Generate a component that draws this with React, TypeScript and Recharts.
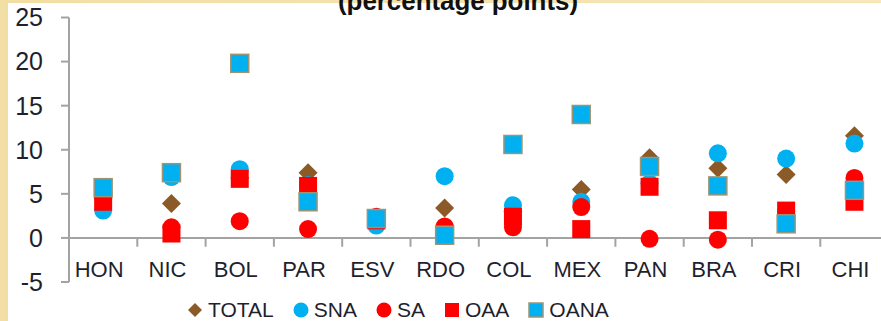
import { ComposedChart, Scatter, XAxis, YAxis, ReferenceLine } from 'recharts';

const categories = ['HON', 'NIC', 'BOL', 'PAR', 'ESV', 'RDO', 'COL', 'MEX', 'PAN', 'BRA', 'CRI', 'CHI'];
const totalValues = [4.5, 3.9, 6.8, 7.4, 2.0, 3.4, 3.0, 5.5, 9.1, 7.9, 7.2, 11.6];
const snaValues = [3.1, 6.9, 7.8, 6.0, 1.4, 7.0, 3.7, 4.1, 6.2, 9.6, 9.0, 10.7];
const saValues = [5.0, 1.2, 1.9, 1.0, 2.4, 1.3, 1.2, 3.5, -0.1, -0.2, 3.0, 6.8];
const oaaValues = [4.1, 0.5, 6.7, 5.9, 2.0, 0.5, 2.4, 1.0, 5.8, 2.0, 3.1, 4.1];
const oanaValues = [5.7, 7.4, 19.8, 4.1, 2.2, 0.3, 10.6, 14.0, 8.1, 5.9, 1.6, 5.4];
const yTicks = [-5, 0, 5, 10, 15, 20, 25];

const BLUE = '#00b0f0';
const RED = '#ff0000';
const BROWN = '#8c5a26';
const AXIS = '#a3a3a3';
const TEXT = '#1f1f2e';
const FONT = "'Liberation Sans', Arial, sans-serif";

const data = categories.map((c, i) => ({
  x: i + 0.5,
  cat: c,
  TOTAL: totalValues[i],
  SNA: snaValues[i],
  SA: saValues[i],
  OAA: oaaValues[i],
  OANA: oanaValues[i],
}));

const labelTicks = categories.map((_, i) => i + 0.5);
const boundaries = categories.slice(1).map((_, i) => i + 1).concat([categories.length]);

const Diamond = (props: any) => {
  const { cx, cy } = props;
  if (cx == null || cy == null) return null;
  const r = 9.5;
  return <path d={`M${cx},${cy - r}L${cx + r},${cy}L${cx},${cy + r}L${cx - r},${cy}Z`} fill={BROWN} />;
};

const Dot = (color: string) => (props: any) => {
  const { cx, cy } = props;
  if (cx == null || cy == null) return null;
  return <circle cx={cx} cy={cy} r={9} fill={color} />;
};

const Square = (color: string, border?: string) => (props: any) => {
  const { cx, cy } = props;
  if (cx == null || cy == null) return null;
  return (
    <rect
      x={cx - 9}
      y={cy - 9}
      width={18}
      height={18}
      fill={color}
      stroke={border || 'none'}
      strokeWidth={border ? 1.5 : 0}
    />
  );
};

const CatTick = (props: any) => {
  const { x, y, payload } = props;
  const idx = Math.round(payload.value - 0.5);
  return (
    <text x={x - 4} y={y - 5} textAnchor="middle" fill={TEXT} fontSize={22} fontFamily={FONT}>
      {categories[idx]}
    </text>
  );
};

const legendItems = [
  { name: 'TOTAL', kind: 'diamond', color: BROWN },
  { name: 'SNA', kind: 'circle', color: BLUE },
  { name: 'SA', kind: 'circle', color: RED },
  { name: 'OAA', kind: 'square', color: RED },
  { name: 'OANA', kind: 'square', color: BLUE },
];

const LegendIcon = ({ kind, color }: { kind: string; color: string }) => (
  <svg width={16} height={16} style={{ marginRight: 5 }}>
    {kind === 'diamond' && <path d="M8,1L15,8L8,15L1,8Z" fill={color} />}
    {kind === 'circle' && <circle cx={8} cy={8} r={7.5} fill={color} />}
    {kind === 'square' && (
      <rect x={1} y={1} width={14} height={14} fill={color} stroke={color === BLUE ? '#9c9576' : 'none'} strokeWidth={1.5} />
    )}
  </svg>
);

export default function App() {
  return (
    <div style={{ position: 'absolute', left: 0, top: 0, width: 881, height: 321, overflow: 'hidden', background: 'linear-gradient(90deg, #f2dfa6, #f7e8bd)' }}>
      <div style={{ position: 'absolute', left: 8, top: 3, width: 873, height: 318, background: '#fff', boxShadow: '-2px 0 3px rgba(240,220,160,0.6)' }} />
      <div style={{ position: 'absolute', left: 0, top: 0 }}>
        <ComposedChart width={892} height={321} data={data} margin={{ top: 17.5, right: 3.4, bottom: 9, left: 9 }}>
          <XAxis
            dataKey="x"
            type="number"
            domain={[0, categories.length]}
            ticks={labelTicks}
            tick={<CatTick />}
            tickLine={false}
            axisLine={false}
            tickSize={0}
            tickMargin={0}
            height={30}
            interval={0}
          />
          <YAxis
            type="number"
            domain={[-5, 25]}
            ticks={yTicks}
            width={60}
            tickSize={8}
            tickMargin={18}
            axisLine={{ stroke: AXIS, strokeWidth: 2 }}
            tickLine={{ stroke: AXIS, strokeWidth: 2 }}
            tick={{ fill: TEXT, fontSize: 25, fontFamily: FONT }}
            allowDataOverflow
          />
          <ReferenceLine y={0} stroke={AXIS} strokeWidth={2} />
          {boundaries.map((b) => (
            <ReferenceLine
              key={b}
              segment={[{ x: b, y: 0 }, { x: b, y: -1 }]}
              stroke={AXIS}
              strokeWidth={2}
              ifOverflow="visible"
            />
          ))}
          <Scatter name="TOTAL" dataKey="TOTAL" shape={Diamond} isAnimationActive={false} />
          <Scatter name="SNA" dataKey="SNA" shape={Dot(BLUE)} isAnimationActive={false} />
          <Scatter name="SA" dataKey="SA" shape={Dot(RED)} isAnimationActive={false} />
          <Scatter name="OAA" dataKey="OAA" shape={Square(RED)} isAnimationActive={false} />
          <Scatter name="OANA" dataKey="OANA" shape={Square(BLUE, '#9c9576')} isAnimationActive={false} />
        </ComposedChart>
      </div>
      <svg style={{ position: 'absolute', left: 0, top: 0 }} width={881} height={30}>
        <text x={458} y={10} textAnchor="middle" fontSize={26} fontWeight="bold" fill="#111" textLength={240} lengthAdjust="spacingAndGlyphs" fontFamily={FONT}>
          (percentage points)
        </text>
      </svg>
      <div style={{ position: 'absolute', left: 187, top: 298, display: 'flex', alignItems: 'center', fontFamily: FONT, fontSize: 21, color: TEXT }}>
        {legendItems.map((it, i) => (
          <div key={it.name} style={{ display: 'flex', alignItems: 'center', marginRight: i < legendItems.length - 1 ? 19 : 0 }}>
            <LegendIcon kind={it.kind} color={it.color} />
            <span>{it.name}</span>
          </div>
        ))}
      </div>
    </div>
  );
}
